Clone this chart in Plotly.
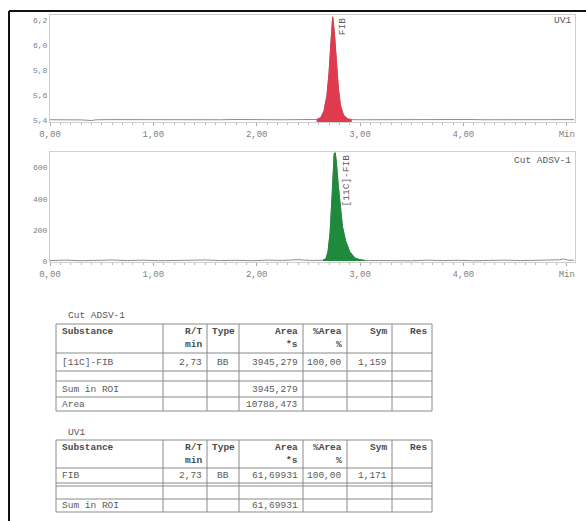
import plotly.graph_objects as go

# ---- chromatogram traces (time in min) ----
uv_time = [0.00, 0.15, 0.30, 0.40, 0.45, 0.60, 0.75, 0.90, 1.05, 1.20, 1.35, 1.50, 1.65, 1.80,
           1.95, 2.10, 2.25, 2.40, 2.50, 2.58, 2.62, 2.65, 2.68, 2.70, 2.72, 2.735, 2.75, 2.77,
           2.79, 2.81, 2.84, 2.88, 2.92, 3.00, 3.15, 3.30, 3.45, 3.60, 3.75, 3.90, 4.05, 4.20,
           4.35, 4.50, 4.65, 4.80, 4.95, 5.07]
uv_signal = [5.403, 5.404, 5.402, 5.397, 5.403, 5.404, 5.403, 5.405, 5.403, 5.404, 5.402, 5.404,
             5.403, 5.405, 5.403, 5.404, 5.403, 5.404, 5.404, 5.405, 5.42, 5.47, 5.60, 5.78, 6.05,
             6.23, 6.12, 5.88, 5.66, 5.52, 5.44, 5.41, 5.404, 5.403, 5.404, 5.403, 5.405, 5.404,
             5.403, 5.404, 5.405, 5.403, 5.404, 5.403, 5.404, 5.405, 5.404, 5.404]

rad_time = [0.00, 0.15, 0.30, 0.45, 0.60, 0.75, 0.90, 1.05, 1.20, 1.35, 1.50, 1.65, 1.80, 1.95,
            2.10, 2.25, 2.40, 2.52, 2.60, 2.64, 2.67, 2.69, 2.71, 2.73, 2.74, 2.75, 2.76, 2.77,
            2.79, 2.81, 2.83, 2.86, 2.90, 2.95, 3.00, 3.05, 3.20, 3.35, 3.50, 3.65, 3.80, 3.95,
            4.10, 4.25, 4.40, 4.55, 4.70, 4.85, 4.93, 4.97, 5.01, 5.07]
rad_signal = [3, 6, 2, 5, 7, 3, 6, 2, 5, 4, 7, 3, 5, 2, 6, 4, 9, 4, 3, 5, 15, 60, 180, 420, 580,
              690, 695, 640, 480, 330, 220, 130, 60, 20, 8, 4, 3, 5, 2, 6, 3, 5, 2, 4, 6, 3, 5, 4,
              8, 14, 6, 5]

# integration windows of the single peak in each trace
uv_peak_window = (2.58, 2.92)
rad_peak_window = (2.64, 3.05)

tick_vals = [0, 1, 2, 3, 4, 5]
tick_text = ["0,00", "1,00", "2,00", "3,00", "4,00", "Min"]
uv_yticks = [5.4, 5.6, 5.8, 6.0, 6.2]
uv_yticktext = ["5,4", "5,6", "5,8", "6,0", "6,2"]
rad_yticks = [0, 200, 400, 600]
rad_yticktext = ["0", "200", "400", "600"]

# ---- result tables ----
col_head1 = ["Substance", "R/T", "Type", "Area", "%Area", "Sym", "Res"]
col_head2 = ["", "min", "", "*s", "%", "", ""]

rad_substance = ["[11C]-FIB", "", "Sum in ROI", "Area"]
rad_rt = ["2,73", "", "", ""]
rad_type = ["BB", "", "", ""]
rad_area = ["3945,279", "", "3945,279", "10788,473"]
rad_pct = ["100,00", "", "", ""]
rad_sym = ["1,159", "", "", ""]
rad_res = ["", "", "", ""]

uv_substance = ["FIB", "", "Sum in ROI"]
uv_rt = ["2,73", "", ""]
uv_type = ["BB", "", ""]
uv_area = ["61,69931", "", "61,69931"]
uv_pct = ["100,00", "", ""]
uv_sym = ["1,171", "", ""]
uv_res = ["", "", ""]

W, H = 586, 521
RED = "#e03a4f"
GREEN = "#1f8a3c"
BASE = "#8c8c8c"
TXT = "#5a5a5a"
MONO = "Liberation Mono"


def px_x(p):
    return p / W


def px_y(p):
    return 1 - p / H


def window(t, s, lo, hi):
    idx = [i for i, v in enumerate(t) if lo <= v <= hi]
    return [t[i] for i in idx], [s[i] for i in idx]


fig = go.Figure()

# chromatogram baselines and filled peaks
for t, s, win, col, xa, ya in [(uv_time, uv_signal, uv_peak_window, RED, "x", "y"),
                               (rad_time, rad_signal, rad_peak_window, GREEN, "x2", "y2")]:
    fig.add_trace(go.Scatter(x=t, y=s, mode="lines", line=dict(color=BASE, width=1),
                             xaxis=xa, yaxis=ya, hoverinfo="skip"))
    pt, ps = window(t, s, *win)
    fig.add_trace(go.Scatter(x=pt, y=ps, mode="lines", fill="tozeroy",
                             line=dict(color=col, width=1), fillcolor=col,
                             xaxis=xa, yaxis=ya, hoverinfo="skip"))

axis_font_x = dict(family=MONO, size=9, color="#808080")
axis_font_y = dict(family=MONO, size=8, color="#808080")
xcommon = dict(range=[0, 5.08], tickvals=tick_vals, ticktext=tick_text, showgrid=False,
               zeroline=False, showline=True, linecolor="#cfcfcf", mirror=True,
               ticks="outside", ticklen=3, tickcolor="#aaa", tickfont=axis_font_x,
               minor=dict(dtick=0.1, ticks="outside", ticklen=2, tickcolor="#bbb"),
               domain=[px_x(50), px_x(575)], automargin=False)
ycommon = dict(showgrid=False, zeroline=False, showline=True, linecolor="#cfcfcf",
               mirror=True, ticks="", tickfont=axis_font_y, automargin=False)

fig.update_layout(
    width=W, height=H, margin=dict(l=0, r=0, t=0, b=0, autoexpand=False),
    paper_bgcolor="white", plot_bgcolor="white", showlegend=False,
    xaxis=dict(anchor="y", **xcommon),
    yaxis=dict(anchor="x", range=[5.385, 6.245], tickvals=uv_yticks, ticktext=uv_yticktext,
               domain=[px_y(122), px_y(15)], **ycommon),
    xaxis2=dict(anchor="y2", **xcommon),
    yaxis2=dict(anchor="x2", range=[-6, 700], tickvals=rad_yticks, ticktext=rad_yticktext,
                domain=[px_y(262), px_y(152)], **ycommon),
)

FS = 9.5
ann = dict(showarrow=False, font=dict(family=MONO, size=FS, color=TXT))
fig.add_annotation(x=5.06, y=6.2, xref="x", yref="y", text="UV1", xanchor="right", **ann)
fig.add_annotation(x=5.06, y=645, xref="x2", yref="y2", text="Cut ADSV-1", xanchor="right", **ann)
fig.add_annotation(x=2.83, y=6.235, xref="x", yref="y", text="FIB", textangle=-90,
                   yanchor="top", **ann)
fig.add_annotation(x=2.87, y=695, xref="x2", yref="y2", text="[11C]-FIB", textangle=-90,
                   yanchor="top", **ann)

# ---- tables drawn with paper-anchored lines and text ----
col_edges = [56, 163, 207, 239, 303, 347, 392, 432]
col_align = ["left", "right", "center", "right", "right", "right", "right"]
grid_line = dict(color="#8a8a8a", width=1)


def hline(y, x0, x1, width=1):
    fig.add_shape(type="line", xref="paper", yref="paper", x0=px_x(x0), x1=px_x(x1),
                  y0=px_y(y), y1=px_y(y), line=dict(color="#8a8a8a", width=width))


def vline(x, y0, y1):
    fig.add_shape(type="line", xref="paper", yref="paper", x0=px_x(x), x1=px_x(x),
                  y0=px_y(y0), y1=px_y(y1), line=grid_line)


def cell_text(text, c, yc, bold=False):
    if not text:
        return
    a = col_align[c]
    if a == "left":
        x, anchor = col_edges[c] + 4, "left"
    elif a == "right":
        x, anchor = col_edges[c + 1] - 3, "right"
    else:
        x, anchor = (col_edges[c] + col_edges[c + 1]) / 2, "center"
    fig.add_annotation(x=px_x(x), y=px_y(yc), xref="paper", yref="paper",
                       text="<b>%s</b>" % text if bold else text, xanchor=anchor,
                       yanchor="middle", showarrow=False,
                       font=dict(family=MONO, size=FS, color="#4a4a4a" if bold else TXT))


def draw_table(title, title_y, columns, row_edges, double_after=None):
    fig.add_annotation(x=px_x(66), y=px_y(title_y), xref="paper", yref="paper", text=title,
                       xanchor="left", yanchor="middle", **ann)
    top, bottom = row_edges[0], row_edges[-1]
    for y in row_edges:
        hline(y, col_edges[0], col_edges[-1])
    if double_after is not None:
        hline(row_edges[double_after] + 3, col_edges[0], col_edges[-1])
    for x in col_edges:
        vline(x, top, bottom)
    for c in range(len(col_head1)):
        cell_text(col_head1[c], c, top + 7, bold=True)
        cell_text(col_head2[c], c, top + 20, bold=True)
    for r in range(len(columns[0])):
        yc = (row_edges[r + 1] + row_edges[r + 2]) / 2
        for c, col in enumerate(columns):
            cell_text(col[r], c, yc)


draw_table("Cut ADSV-1", 315,
           [rad_substance, rad_rt, rad_type, rad_area, rad_pct, rad_sym, rad_res],
           [324, 353, 371, 381, 397, 411])
draw_table("UV1", 432,
           [uv_substance, uv_rt, uv_type, uv_area, uv_pct, uv_sym, uv_res],
           [440, 468, 483, 499, 512], double_after=2)

# outer frame
frame = dict(type="line", xref="paper", yref="paper", line=dict(color="#111", width=2))
fig.add_shape(x0=px_x(9), x1=px_x(9), y0=0, y1=px_y(11), **frame)
fig.add_shape(x0=px_x(9), x1=1, y0=px_y(11), y1=px_y(11), **frame)

fig.write_html("out.html")
